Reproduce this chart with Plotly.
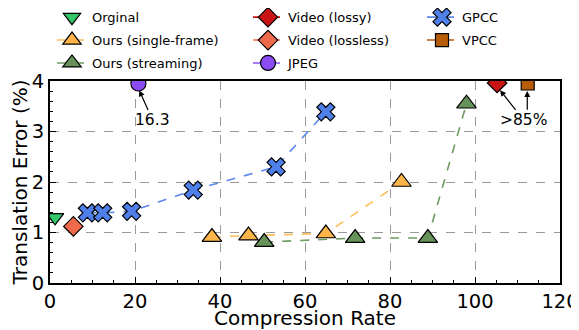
import plotly.graph_objects as go

# ---- data ----
orig_x = [1.2]
orig_y = [1.30]
single_x = [38.1, 46.7, 64.9, 82.7]
single_y = [0.91, 0.94, 0.98, 2.00]
stream_x = [50.4, 71.8, 88.9, 98.0]
stream_y = [0.81, 0.89, 0.89, 3.55]
vlossy_x = [105.2]
vlossy_y = [3.96]
vlossless_x = [5.5]
vlossless_y = [1.12]
jpeg_x = [20.8]
jpeg_y = [3.95]
gpcc_x = [8.8, 12.4, 19.2, 33.7, 53.2, 64.9]
gpcc_y = [1.39, 1.39, 1.42, 1.84, 2.30, 3.39]
vpcc_x = [112.4]
vpcc_y = [3.95]

x_ticks = [0, 20, 40, 60, 80, 100, 120]
y_ticks = [0, 1, 2, 3, 4]

FONT = "DejaVu Sans"

def tr(x, y, name, sym, fill, line, legend, size=15, mode="lines+markers"):
    return go.Scatter(
        x=x, y=y, name=name, mode=mode, legend=legend, legendgroup=name,
        line=dict(color=line, width=1.6, dash="dash"),
        marker=dict(symbol=sym, size=size, color=fill,
                    line=dict(color="black", width=1.2)),
        cliponaxis=True,
    )

fig = go.Figure()
fig.add_trace(tr(orig_x, orig_y, "Orginal", "triangle-down", "#34c76a", "#34c76a", "legend", mode="markers"))
fig.add_trace(tr(single_x, single_y, "Ours (single-frame)", "triangle-up", "#fdb54a", "#fdbf5e", "legend", size=17))
fig.add_trace(tr(stream_x, stream_y, "Ours (streaming)", "triangle-up", "#67935a", "#6f9a62", "legend", size=17))
fig.add_trace(tr(vlossy_x, vlossy_y, "Video (lossy)", "diamond", "#c81414", "#c81414", "legend2"))
fig.add_trace(tr(vlossless_x, vlossless_y, "Video (lossless)", "diamond", "#ef6a4a", "#ef6a4a", "legend2"))
fig.add_trace(tr(jpeg_x, jpeg_y, "JPEG", "circle", "#8a4cf2", "#8a4cf2", "legend2", size=15))
fig.add_trace(tr(gpcc_x, gpcc_y, "GPCC", "x", "#4f7fe8", "#5b88ee", "legend3", size=16))
fig.add_trace(tr(vpcc_x, vpcc_y, "VPCC", "square", "#b85c08", "#b85c08", "legend3", size=13))

arrow = dict(showarrow=True, arrowhead=2, arrowsize=1, arrowwidth=1.2,
             arrowcolor="black", axref="x", ayref="y", xref="x", yref="y",
             font=dict(family=FONT, size=15.5, color="black"))
fig.add_annotation(x=20.8, y=3.85, ax=24.2, ay=3.22, text="16.3", standoff=2, **arrow)
fig.add_annotation(x=105.6, y=3.85, ax=111.5, ay=3.22, text=">85%", standoff=2, **arrow)
fig.add_annotation(x=112.3, y=3.80, ax=112.3, ay=3.40, text="", standoff=0, **arrow)

axis_common = dict(
    showline=True, linecolor="black", linewidth=2, mirror=True,
    ticks="inside", ticklen=6, tickwidth=1.2, tickcolor="black",
    showgrid=True, gridcolor="#9a9a9a", griddash="dash", gridwidth=1,
    zeroline=False, automargin=False,
    tickfont=dict(family=FONT, size=19.5, color="black"),
)

fig.update_xaxes(range=[0, 120], tickvals=x_ticks, ticktext=[str(v) for v in x_ticks],
                 minor=dict(dtick=5, tick0=0, ticks="inside", ticklen=3, tickcolor="black", showgrid=False),
                 title=dict(text="Compression Rate", font=dict(family=FONT, size=20, color="black"), standoff=3),
                 **axis_common)
fig.update_yaxes(range=[0, 4], tickvals=y_ticks, ticktext=[str(v) for v in y_ticks],
                 minor=dict(dtick=0.2, tick0=0, ticks="inside", ticklen=3, tickcolor="black", showgrid=False),
                 title=dict(text="Translation Error (%)", font=dict(family=FONT, size=20, color="black"), standoff=2),
                 **axis_common)

leg = dict(font=dict(family=FONT, size=13, color="black"), bgcolor="rgba(0,0,0,0)",
           xanchor="left", yanchor="top", yref="paper", tracegroupgap=3, itemsizing="trace")
leg_top = 1.39
fig.update_layout(
    width=571, height=322,
    margin=dict(l=42, r=19, t=73, b=47, autoexpand=False),
    plot_bgcolor="white", paper_bgcolor="white",
    font=dict(family=FONT, color="black"),
    legend=dict(x=2 / 510, y=leg_top, **leg),
    legend2=dict(x=(248 - 50) / 510, y=leg_top, **leg),
    legend3=dict(x=(422 - 50) / 510, y=leg_top, **leg),
)

fig.write_html("out.html")
